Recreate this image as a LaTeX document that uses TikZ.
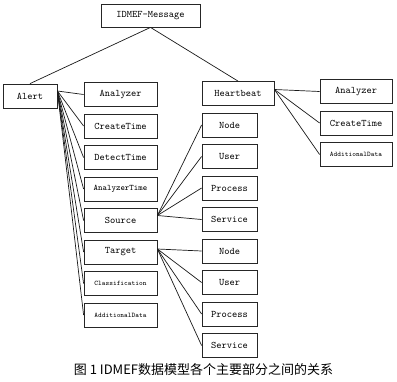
\documentclass[tikz,border=0pt]{standalone}
\usepackage{fontspec}
\newfontfamily\cjk{Noto Sans CJK SC}
\usetikzlibrary{positioning}

\begin{document}
\begin{tikzpicture}[x=1pt, y=-1pt, node distance=6.7pt]

\tikzset{
  block/.style={
    rectangle, draw=black!85, line width=0.8pt, align=center,
    minimum height=24pt, inner sep=1pt,
    font=\ttfamily\fontsize{10}{12}\selectfont
  },
  leftblock/.style={block, minimum width=73pt},
  midblock/.style={block, minimum width=55pt},
  rightblock/.style={block, minimum width=72pt},
  smalltext/.style={font=\ttfamily\fontsize{8.4}{10}\selectfont},
  tinytext/.style={font=\ttfamily\fontsize{7}{9}\selectfont},
  link/.style={draw=black!90, line width=0.7pt}
}

\useasboundingbox (0,0) rectangle (397,381);

% =========================================================
% Root and the two message types
% =========================================================
\node[block, minimum width=99pt, minimum height=23pt] (msg) at (150.5,15.5) {IDMEF-Message};
\node[block, minimum width=54pt] (alert) at (30,96) {Alert};
\node[block, minimum width=72pt] (hb) at (238,93.5) {Heartbeat};

\draw[link] (alert.north) -- (msg.south);
\draw[link] (msg.south) -- (hb.north);

% =========================================================
% Alert children
% =========================================================
\node[leftblock] (aAnalyzer) at (120.5,94.5) {Analyzer};
\node[leftblock, below=of aAnalyzer] (aCreate) {CreateTime};
\node[leftblock, below=of aCreate] (aDetect) {DetectTime};
\node[leftblock, smalltext, below=of aDetect] (aAnaTime) {AnalyzerTime};
\node[leftblock, below=of aAnaTime] (source) {Source};
\node[leftblock, below=of source] (target) {Target};
\node[leftblock, tinytext, below=of target] (aClass) {Classification};
\node[leftblock, tinytext, below=of aClass] (aAddData) {AdditionalData};

\coordinate (alertO) at ([yshift=5pt]alert.east);
\foreach \child in {aAnalyzer, aCreate, aDetect, aAnaTime, source, target, aClass, aAddData}
  \draw[link] (alertO) -- (\child.west);

% =========================================================
% Source and Target children
% =========================================================
\node[midblock] (sNode) at (229.5,125) {Node};
\node[midblock, below=of sNode] (sUser) {User};
\node[midblock, below=of sUser] (sProcess) {Process};
\node[midblock, below=of sProcess] (sService) {Service};
\node[midblock, below=of sService] (tNode) {Node};
\node[midblock, below=of tNode] (tUser) {User};
\node[midblock, below=of tUser] (tProcess) {Process};
\node[midblock, below=of tProcess] (tService) {Service};

\coordinate (sourceO) at ([yshift=5pt]source.east);
\coordinate (targetO) at ([yshift=3pt]target.east);
\foreach \child in {sNode, sUser, sProcess, sService}
  \draw[link] (sourceO) -- (\child.west);
\foreach \child in {tNode, tUser, tProcess, tService}
  \draw[link] (targetO) -- (\child.west);

% =========================================================
% Heartbeat children
% =========================================================
\node[rightblock] (hAnalyzer) at (356,91.5) {Analyzer};
\node[rightblock, below=of hAnalyzer] (hCreate) {CreateTime};
\node[rightblock, tinytext, below=of hCreate] (hAddData) {AdditionalData};

\coordinate (hbO) at ([yshift=4pt]hb.east);
\foreach \child in {hAnalyzer, hCreate, hAddData}
  \draw[link] (hbO) -- (\child.west);

% =========================================================
% Caption
% =========================================================
\node[font=\cjk\fontsize{13}{15}\selectfont] (caption) at (203.5,370)
{图 1 IDMEF数据模型各个主要部分之间的关系};

\end{tikzpicture}
\end{document}
